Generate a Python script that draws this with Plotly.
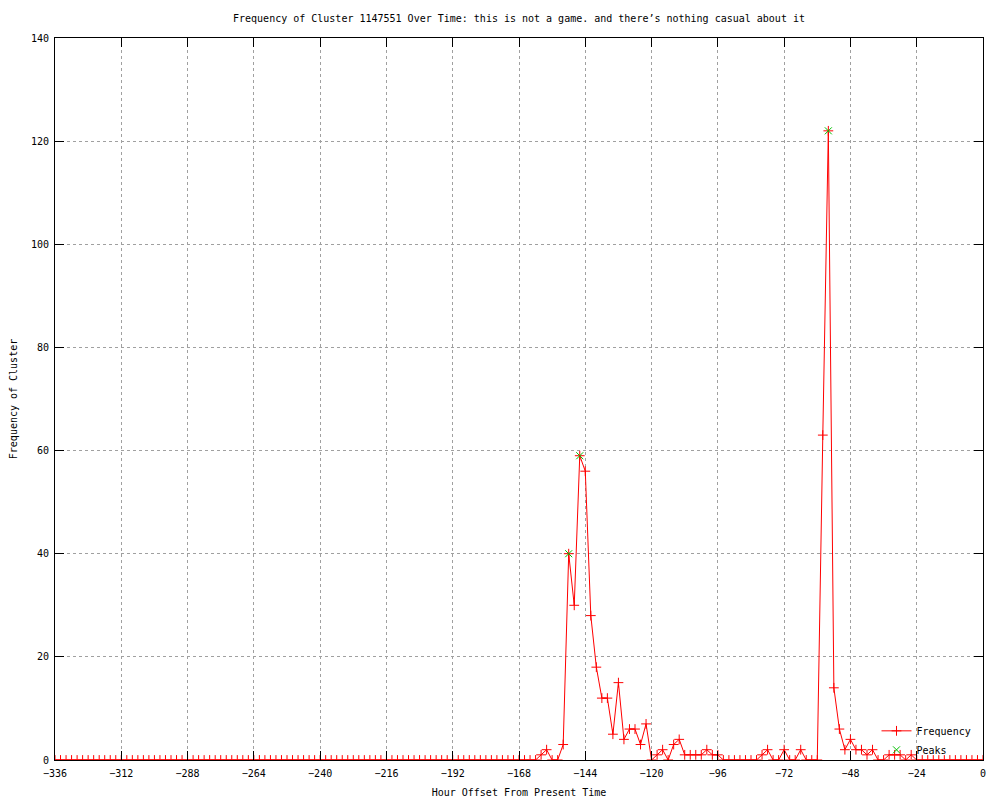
import plotly.graph_objects as go

# Hour offsets (every 2 hours from -336 to 0)
hours = list(range(-336, 2, 2))

# Frequency values, one per hour offset above
frequency = (
    [0] * 88 +                                   # -336 .. -162
    [1, 2, 0, 0, 3, 40, 30, 59, 56, 28,          # -160 .. -142
     18, 12, 12, 5, 15, 4, 6, 6, 3, 7,           # -140 .. -122
     0, 1, 2, 0, 3, 4, 1, 1, 1, 1,               # -120 .. -102
     2, 1, 1, 0, 0, 0, 0, 0, 0, 0,               # -100 .. -82
     1, 2, 0, 0, 2, 0, 0, 2, 0, 0,               # -80 .. -62
     0, 63, 122, 14, 6, 2, 4, 2, 2, 1,           # -60 .. -42
     2, 0, 0, 1, 1, 1, 0, 1, 0] +                # -40 .. -24
    [0] * 12                                      # -22 .. 0
)

peak_hours = [-150, -146, -56]
peak_values = [40, 59, 122]

x_ticks = [-336, -312, -288, -264, -240, -216, -192, -168, -144, -120, -96, -72, -48, -24, 0]
y_ticks = [0, 20, 40, 60, 80, 100, 120, 140]

FONT = "DejaVu Sans Mono"

fig = go.Figure()
fig.add_trace(go.Scatter(
    x=hours, y=frequency, mode="lines+markers", name="Frequency",
    line=dict(color="#ff0000", width=1),
    marker=dict(symbol="cross-thin", size=7, color="#ff0000",
                line=dict(color="#ff0000", width=1)),
))
fig.add_trace(go.Scatter(
    x=peak_hours, y=peak_values, mode="markers", name="Peaks",
    marker=dict(symbol="x-thin", size=7, color="#00c000",
                line=dict(color="#00c000", width=1)),
))

axis_common = dict(
    showline=True, linecolor="black", linewidth=1, mirror="ticks",
    ticks="inside", ticklen=9, tickcolor="black", tickwidth=1,
    showgrid=True, gridcolor="#a0a0a0", griddash="dot", gridwidth=1,
    zeroline=False, automargin=False,
    tickfont=dict(family=FONT, size=10, color="black"),
)

fig.update_layout(
    width=1000, height=800,
    paper_bgcolor="white", plot_bgcolor="white",
    margin=dict(l=47, r=25, t=30, b=48),
    font=dict(family=FONT, size=10, color="black"),
    title=dict(
        text="Frequency of Cluster 1147551 Over Time: this is not a game. and there’s nothing casual about it",
        x=0.5, xref="paper", xanchor="center",
        y=1 - 10 / 800, yref="container", yanchor="middle",
        font=dict(family=FONT, size=10, color="black"),
    ),
    xaxis=dict(
        range=[-336, 0], tickvals=x_ticks, ticklabelstandoff=4,
        title=dict(text="Hour Offset From Present Time", standoff=10,
                   font=dict(family=FONT, size=10)),
        **axis_common,
    ),
    yaxis=dict(
        range=[0, 140], tickvals=y_ticks, ticklabelstandoff=3,
        title=dict(text="Frequency of Cluster", standoff=11,
                   font=dict(family=FONT, size=10)),
        **axis_common,
    ),
    legend=dict(
        x=0.993, y=-0.006, xanchor="right", yanchor="bottom",
        bgcolor="rgba(0,0,0,0)", borderwidth=0,
        font=dict(family=FONT, size=10, color="black"),
        tracegroupgap=0, itemwidth=30,
    ),
    showlegend=True,
)

fig.write_html("out.html")
